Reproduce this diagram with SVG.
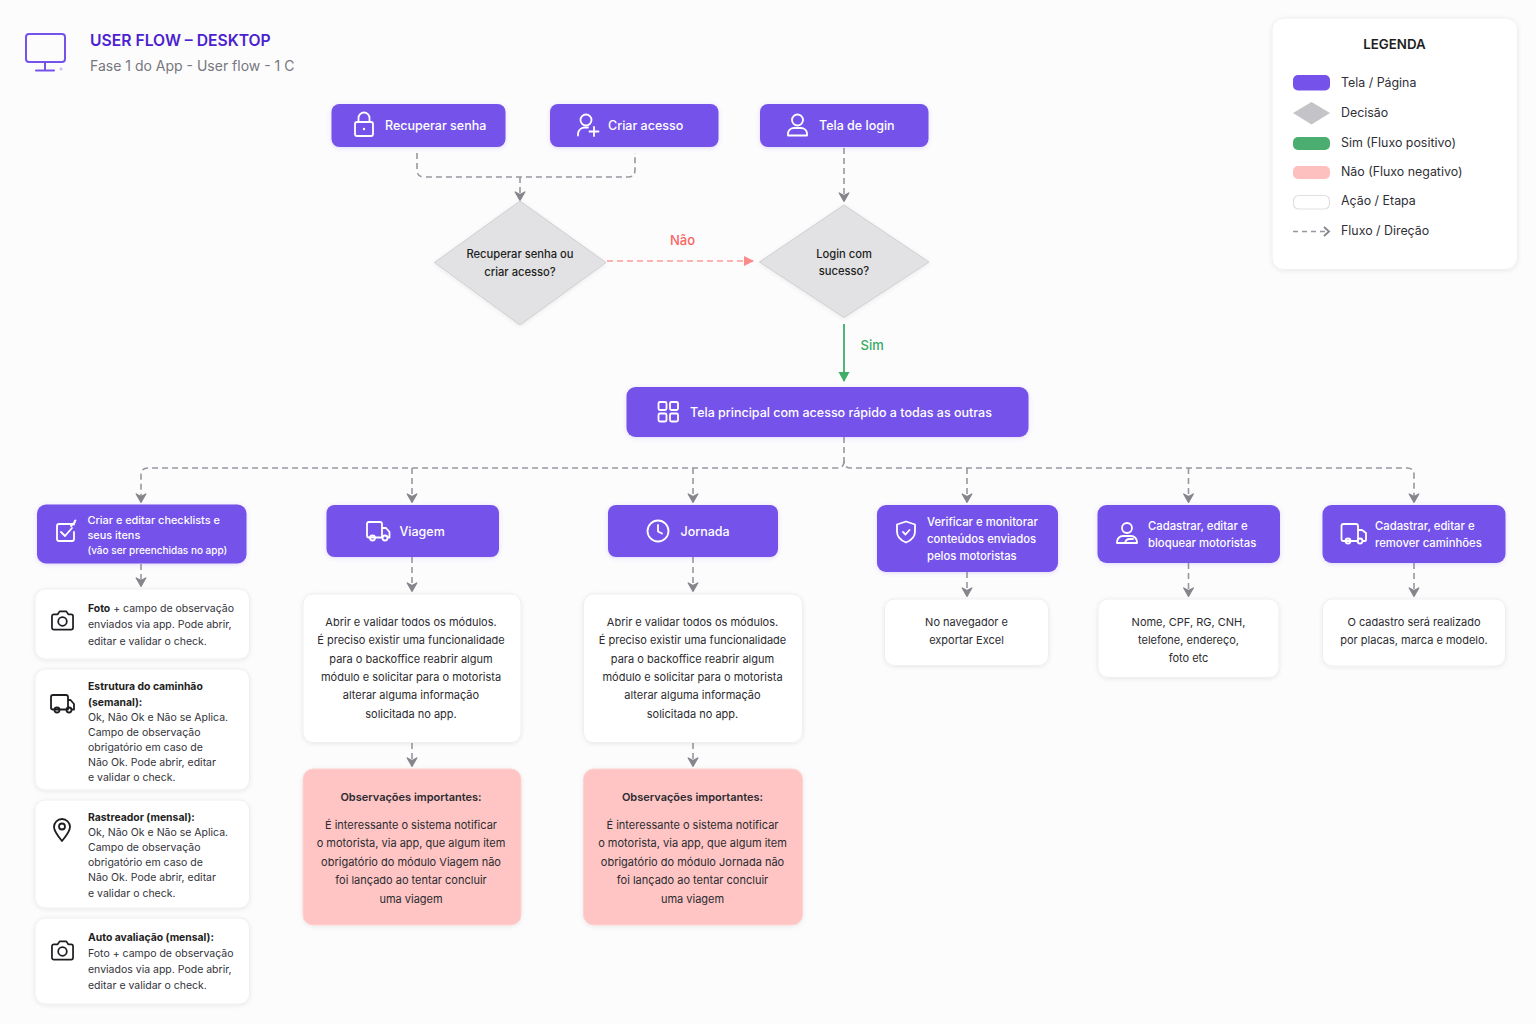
<svg xmlns="http://www.w3.org/2000/svg" width="1536" height="1024" viewBox="0 0 1536 1024">
<style>
text{font-family:"Inter","Noto Sans","Liberation Sans",sans-serif}
.p{fill:#7552EA;filter:url(#ps)}
.c{fill:#fff;stroke:#EFEFF2;stroke-width:1;filter:url(#cs)}
.r{fill:#FEC5C4;stroke:#FDD3D2;stroke-width:1;filter:url(#cs)}
.d{fill:#E2E2E4;stroke:#CFCFD2;stroke-width:1;stroke-linejoin:round;filter:url(#cs)}
.tp{fill:#fff;font-size:12.500px;font-weight:500}
.ts{fill:#fff;font-size:11.300px;font-weight:500}
.ts1{fill:#fff;font-size:10.900px;font-weight:500}
.ts2{fill:#fff;font-size:10px;font-weight:500}
.b{fill:#2B2B30;font-size:11px;text-anchor:middle}
.bd{fill:#2B2B30;font-size:11px;font-weight:600;text-anchor:middle}
.l{fill:#33333A;font-size:10.500px}
.lb{fill:#1E1E22;font-size:10.400px;font-weight:700}
.dt{fill:#1E1E22;font-size:11.200px;font-weight:500;text-anchor:middle}
.lg{fill:#2F2F35;font-size:12.400px}
.ci{fill:none;stroke:#fff;stroke-width:1.800;stroke-linecap:round;stroke-linejoin:round}
.ck{fill:none;stroke:#1E1E22;stroke-width:1.800;stroke-linecap:round;stroke-linejoin:round}
.f{fill:none;stroke:#97979E;stroke-width:1.600;stroke-dasharray:6 4}
</style>
<defs>
<filter id="ps" x="-10%" y="-20%" width="120%" height="140%"><feDropShadow dx="0" dy="1" stdDeviation="2" flood-color="#7552EA" flood-opacity=".2"/></filter>
<filter id="cs" x="-10%" y="-10%" width="120%" height="120%"><feDropShadow dx="0" dy="1" stdDeviation="2" flood-color="#000" flood-opacity=".08"/></filter>
<marker id="ag" viewBox="0 0 12 12" refX="9.500" refY="6" markerWidth="13" markerHeight="13" markerUnits="userSpaceOnUse" orient="auto"><path d="M2 1.500L10 6L2 10.500L4.500 6Z" fill="#85858C" stroke="#85858C" stroke-width="1" stroke-linejoin="round"/></marker>
<marker id="ar" viewBox="0 0 12 12" refX="10" refY="6" markerWidth="12" markerHeight="12" markerUnits="userSpaceOnUse" orient="auto"><path d="M1 1L11 6L1 11Z" fill="#FB8B88"/></marker>
<marker id="agr" viewBox="0 0 12 12" refX="10" refY="6" markerWidth="12" markerHeight="12" markerUnits="userSpaceOnUse" orient="auto"><path d="M1 .5L11 6L1 11.500Z" fill="#3FAE66"/></marker>
<symbol id="cam" viewBox="0 0 26 24" overflow="visible"><path class="ck" d="M2 7.500a2 2 0 0 1 2-2h4l2-3h7l2 3h3a2 2 0 0 1 2 2v12a2 2 0 0 1-2 2H4a2 2 0 0 1-2-2Z"/><circle class="ck" cx="13" cy="13" r="4.500"/></symbol>
</defs>
<rect width="1536" height="1024" fill="#FCFCFD"/>

<g id="header">
<rect x="26" y="34" width="39" height="28" rx="3" fill="none" stroke="#7552EA" stroke-width="2"/>
<path d="M45 62V70M36 70.500H54" fill="none" stroke="#7552EA" stroke-width="2" stroke-linecap="round"/>
<circle cx="61" cy="69" r="1.500" fill="#C9BBF7"/>
<text x="90" y="46" font-size="15.700" font-weight="600" fill="#4A22D0">USER FLOW – DESKTOP</text>
<text x="90" y="71" font-size="14" fill="#77777D">Fase 1 do App - User flow - 1 C</text>
</g>

<g id="connectors" fill="none">
<path class="f" d="M417 153V170Q417 177 424 177H628Q635 177 635 170V153"/>
<path class="f" d="M520 177V200" marker-end="url(#ag)"/>
<path class="f" d="M844 148V201" marker-end="url(#ag)"/>
<path d="M607 261H753" stroke="#FB9B98" stroke-width="1.500" stroke-dasharray="6 4" marker-end="url(#ar)"/>
<path d="M844 324V381" stroke="#3FAE66" stroke-width="1.800" marker-end="url(#agr)"/>
<path class="f" d="M844 437V461Q844 468 851 468H1407Q1414 468 1414 475V502" marker-end="url(#ag)"/>
<path class="f" d="M844 461Q844 468 837 468H148Q141 468 141 475V502" marker-end="url(#ag)"/>
<path class="f" d="M412 468V502" marker-end="url(#ag)"/>
<path class="f" d="M693 468V502" marker-end="url(#ag)"/>
<path class="f" d="M967 468V502" marker-end="url(#ag)"/>
<path class="f" d="M1188.500 468V502" marker-end="url(#ag)"/>
<path class="f" d="M141 564V586" marker-end="url(#ag)"/>
<path class="f" d="M412 557V591" marker-end="url(#ag)"/>
<path class="f" d="M693 557V591" marker-end="url(#ag)"/>
<path class="f" d="M967 572V596" marker-end="url(#ag)"/>
<path class="f" d="M1188.500 563V596" marker-end="url(#ag)"/>
<path class="f" d="M1414 563V596" marker-end="url(#ag)"/>
<path class="f" d="M412 743V766" marker-end="url(#ag)"/>
<path class="f" d="M693 743V766" marker-end="url(#ag)"/>
</g>

<g id="n-recuperar">
<rect class="p" x="331.500" y="104" width="174" height="43" rx="8"/>
<rect class="ci" x="355" y="122" width="18" height="14" rx="2"/><path class="ci" d="M358.500 122V118a5.500 5.500 0 0 1 11 0V122"/><circle cx="364" cy="129" r="1.200" fill="#fff"/>
<text class="tp" x="385" y="130">Recuperar senha</text>
</g>
<g id="n-criar">
<rect class="p" x="550" y="104" width="168.500" height="43" rx="8"/>
<circle class="ci" cx="586" cy="120" r="5.500"/><path class="ci" d="M578 135.500v-2a7 7 0 0 1 7-6h3M594 127v9M589.500 131.500h9"/>
<text class="tp" x="608" y="130">Criar acesso</text>
</g>
<g id="n-login">
<rect class="p" x="760" y="104" width="168.500" height="43" rx="8"/>
<circle class="ci" cx="797.500" cy="120" r="5.500"/><path class="ci" d="M788 135.500v-2.500a6 6 0 0 1 6-5h7a6 6 0 0 1 6 5v2.500Z"/>
<text class="tp" x="819" y="130">Tela de login</text>
</g>
<g id="d-recuperar">
<path class="d" d="M520 201L606 262.500L520 325L434.500 262.500Z"/>
<text class="dt" x="520" y="258">Recuperar senha ou</text>
<text class="dt" x="520" y="275.500">criar acesso?</text>
</g>
<g id="d-login">
<path class="d" d="M844 205L929 262L844 317.500L759.500 262Z"/>
<text class="dt" x="844" y="257.500">Login com</text>
<text class="dt" x="844" y="275">sucesso?</text>
</g>
<text x="682.500" y="244.500" font-size="13" font-weight="500" fill="#FA6561" text-anchor="middle">Não</text>
<text x="860.500" y="350" font-size="13" font-weight="500" fill="#34A860">Sim</text>

<g id="n-principal">
<rect class="p" x="626.500" y="387" width="402" height="50" rx="9"/>
<rect class="ci" x="658.500" y="402" width="8" height="8" rx="1.500"/><rect class="ci" x="670" y="402" width="8" height="8" rx="1.500"/><rect class="ci" x="658.500" y="413.500" width="8" height="8" rx="1.500"/><rect class="ci" x="670" y="413.500" width="8" height="8" rx="1.500"/>
<text class="tp" x="690" y="416.500">Tela principal com acesso rápido a todas as outras</text>
</g>

<g id="n-checklists">
<rect class="p" x="37" y="504.500" width="209.500" height="59" rx="9"/>
<path class="ci" d="M74 524.500v-0.500H59a2 2 0 0 0-2 2v13a2 2 0 0 0 2 2h13a2 2 0 0 0 2-2v-7"/><path class="ci" d="M61 532l4 4 7-8M71 526l4-4M74.500 521.500l1-1"/>
<text class="ts1" x="87.500" y="523.500">Criar e editar checklists e</text>
<text class="ts1" x="87.500" y="539">seus itens</text>
<text class="ts2" x="87.500" y="553.500">(vão ser preenchidas no app)</text>
</g>
<g id="n-foto">
<rect class="c" x="35" y="589" width="214.500" height="70" rx="10"/>
<use href="#cam" x="50" y="609" width="25" height="23"/>
<text class="l" x="88" y="612"><tspan class="lb">Foto</tspan> + campo de observação</text>
<text class="l" x="88" y="628">enviados via app. Pode abrir,</text>
<text class="l" x="88" y="644.500">editar e validar o check.</text>
</g>
<g id="n-estrutura">
<rect class="c" x="35" y="669" width="214.500" height="121" rx="10"/>
<path class="ck" d="M68 709.500H53a2 2 0 0 1-2-2V697a2 2 0 0 1 2-2h13a2 2 0 0 1 2 2v12.500M68 700h2.500l3.500 4v5.500h-1.500"/><circle class="ck" cx="57" cy="710" r="2.500"/><circle class="ck" cx="69" cy="710" r="2.500"/>
<text class="lb" x="88" y="690">Estrutura do caminhão</text>
<text class="lb" x="88" y="705.500">(semanal):</text>
<text class="l" x="88" y="720.500">Ok, Não Ok e Não se Aplica.</text>
<text class="l" x="88" y="736">Campo de observação</text>
<text class="l" x="88" y="751">obrigatório em caso de</text>
<text class="l" x="88" y="766">Não Ok. Pode abrir, editar</text>
<text class="l" x="88" y="781">e validar o check.</text>
</g>
<g id="n-rastreador">
<rect class="c" x="35" y="800" width="214.500" height="108" rx="10"/>
<path class="ck" d="M62 841c-5-6-8-10-8-14a8 8 0 0 1 16 0c0 4-3 8-8 14Z"/><circle class="ck" cx="62" cy="826.500" r="3"/>
<text class="lb" x="88" y="821">Rastreador (mensal):</text>
<text class="l" x="88" y="836">Ok, Não Ok e Não se Aplica.</text>
<text class="l" x="88" y="851">Campo de observação</text>
<text class="l" x="88" y="866">obrigatório em caso de</text>
<text class="l" x="88" y="881">Não Ok. Pode abrir, editar</text>
<text class="l" x="88" y="896.500">e validar o check.</text>
</g>
<g id="n-auto">
<rect class="c" x="35" y="918" width="214.500" height="86" rx="10"/>
<use href="#cam" x="50" y="939" width="25" height="23"/>
<text class="lb" x="88" y="940.500">Auto avaliação (mensal):</text>
<text class="l" x="88" y="956.500">Foto + campo de observação</text>
<text class="l" x="88" y="972.500">enviados via app. Pode abrir,</text>
<text class="l" x="88" y="988.500">editar e validar o check.</text>
</g>

<g id="n-viagem">
<rect class="p" x="326.500" y="505" width="172.500" height="52" rx="8"/>
<path class="ci" d="M382 537.500H369a2 2 0 0 1-2-2V524a2 2 0 0 1 2-2h11a2 2 0 0 1 2 2ZM382 528h4l3.500 4v5.500H388"/><circle class="ci" cx="372.500" cy="538" r="2.500" fill="#7552EA"/><circle class="ci" cx="385" cy="538" r="2.500" fill="#7552EA"/>
<text class="tp" x="399.500" y="535.500">Viagem</text>
</g>
<g id="n-viagem-desc">
<rect class="c" x="303" y="594" width="218" height="148.500" rx="10"/>
<text class="b" x="411" y="625.500">Abrir e validar todos os módulos.</text>
<text class="b" x="411" y="644">É preciso existir uma funcionalidade</text>
<text class="b" x="411" y="662.500">para o backoffice reabrir algum</text>
<text class="b" x="411" y="681">módulo e solicitar para o motorista</text>
<text class="b" x="411" y="699">alterar alguma informação</text>
<text class="b" x="411" y="718">solicitada no app.</text>
</g>
<g id="n-viagem-obs">
<rect class="r" x="303" y="769" width="218" height="156" rx="10"/>
<text class="bd" x="411" y="800.500">Observações importantes:</text>
<text class="b" x="411" y="828.500">É interessante o sistema notificar</text>
<text class="b" x="411" y="847">o motorista, via app, que algum item</text>
<text class="b" x="411" y="865.500">obrigatório do módulo Viagem não</text>
<text class="b" x="411" y="884">foi lançado ao tentar concluir</text>
<text class="b" x="411" y="902.500">uma viagem</text>
</g>
<g id="n-jornada">
<rect class="p" x="608" y="505" width="170" height="52" rx="8"/>
<circle class="ci" cx="658" cy="531" r="10.500"/><path class="ci" d="M658 525v6.500l4 2"/>
<text class="tp" x="680.500" y="535.500">Jornada</text>
</g>
<g id="n-jornada-desc">
<rect class="c" x="583.500" y="594" width="219" height="148.500" rx="10"/>
<text class="b" x="692.500" y="625.500">Abrir e validar todos os módulos.</text>
<text class="b" x="692.500" y="644">É preciso existir uma funcionalidade</text>
<text class="b" x="692.500" y="662.500">para o backoffice reabrir algum</text>
<text class="b" x="692.500" y="681">módulo e solicitar para o motorista</text>
<text class="b" x="692.500" y="699">alterar alguma informação</text>
<text class="b" x="692.500" y="718">solicitada no app.</text>
</g>
<g id="n-jornada-obs">
<rect class="r" x="583.500" y="769" width="219" height="156" rx="10"/>
<text class="bd" x="692.500" y="800.500">Observações importantes:</text>
<text class="b" x="692.500" y="828.500">É interessante o sistema notificar</text>
<text class="b" x="692.500" y="847">o motorista, via app, que algum item</text>
<text class="b" x="692.500" y="865.500">obrigatório do módulo Jornada não</text>
<text class="b" x="692.500" y="884">foi lançado ao tentar concluir</text>
<text class="b" x="692.500" y="902.500">uma viagem</text>
</g>
<g id="n-verificar">
<rect class="p" x="877" y="505" width="181" height="67" rx="9"/>
<path class="ci" d="M906 521.500l9 3v7c0 5.500-4 9-9 11-5-2-9-5.500-9-11v-7Z"/><path class="ci" d="M903 532l2.500 2.500 4-4.500" stroke-width="1.400"/>
<text class="ts" x="927" y="526">Verificar e monitorar</text>
<text class="ts" x="927" y="543">conteúdos enviados</text>
<text class="ts" x="927" y="560">pelos motoristas</text>
</g>
<g id="n-verificar-desc">
<rect class="c" x="884.500" y="599" width="164" height="66.500" rx="10"/>
<text class="b" x="966.500" y="625.500">No navegador e</text>
<text class="b" x="966.500" y="644">exportar Excel</text>
</g>
<g id="n-motoristas">
<rect class="p" x="1097.500" y="505" width="182.500" height="58" rx="9"/>
<circle class="ci" cx="1127" cy="528" r="5" stroke-width="1.500"/><path class="ci" stroke-width="1.500" d="M1117 543v-1a6 6 0 0 1 6-6h8a6 6 0 0 1 6 6v1ZM1125 543a5 5 0 0 1 5-4h3"/>
<text class="ts" x="1148" y="530">Cadastrar, editar e</text>
<text class="ts" x="1148" y="547">bloquear motoristas</text>
</g>
<g id="n-motoristas-desc">
<rect class="c" x="1098" y="599" width="181" height="78.500" rx="10"/>
<text class="b" x="1188.500" y="625.500">Nome, CPF, RG, CNH,</text>
<text class="b" x="1188.500" y="644">telefone, endereço,</text>
<text class="b" x="1188.500" y="662">foto etc</text>
</g>
<g id="n-caminhoes">
<rect class="p" x="1322.500" y="505" width="183" height="58" rx="9"/>
<path class="ci" stroke-width="1.500" d="M1358 541h-15a1.500 1.500 0 0 1-1.500-1.500V526a2 2 0 0 1 2-2h12.500a2 2 0 0 1 2 2ZM1358 530h4l4 3v7a1 1 0 0 1-1 1h-2"/><circle class="ci" stroke-width="1.500" cx="1348" cy="541" r="2.500" fill="#7552EA"/><circle class="ci" stroke-width="1.500" cx="1360" cy="541" r="2.500" fill="#7552EA"/>
<text class="ts" x="1375" y="530">Cadastrar, editar e</text>
<text class="ts" x="1375" y="547">remover caminhões</text>
</g>
<g id="n-caminhoes-desc">
<rect class="c" x="1322.500" y="599" width="183" height="67" rx="10"/>
<text class="b" x="1414" y="625.500">O cadastro será realizado</text>
<text class="b" x="1414" y="644">por placas, marca e modelo.</text>
</g>

<g id="legenda">
<rect x="1272" y="18" width="245.500" height="251.500" rx="12" fill="#fff" stroke="#F0F0F3" filter="url(#cs)"/>
<text x="1394.500" y="48.500" font-size="13.300" font-weight="600" fill="#1E1E22" text-anchor="middle">LEGENDA</text>
<rect x="1293" y="75" width="37" height="15.500" rx="5" fill="#7552EA"/>
<text class="lg" x="1341" y="87">Tela / Página</text>
<path d="M1311.500 102L1330 113L1311.500 124.500L1293 113Z" fill="#C4C4C8"/>
<text class="lg" x="1341" y="117">Decisão</text>
<rect x="1293" y="137" width="37" height="13" rx="5" fill="#4BAE70"/>
<text class="lg" x="1341" y="147">Sim (Fluxo positivo)</text>
<rect x="1293" y="166" width="37" height="13" rx="5" fill="#FEC0BF"/>
<text class="lg" x="1341" y="176">Não (Fluxo negativo)</text>
<rect x="1293.500" y="195.500" width="36" height="13.500" rx="5" fill="#fff" stroke="#E0E0E4" stroke-width="1.200"/>
<text class="lg" x="1341" y="205">Ação / Etapa</text>
<path d="M1293 231.500H1329" fill="none" stroke="#97979E" stroke-width="1.500" stroke-dasharray="5 4"/>
<path d="M1324 227L1329 231.500L1324 236" fill="none" stroke="#85858C" stroke-width="1.800"/>
<text class="lg" x="1341" y="234.500">Fluxo / Direção</text>
</g>
</svg>
